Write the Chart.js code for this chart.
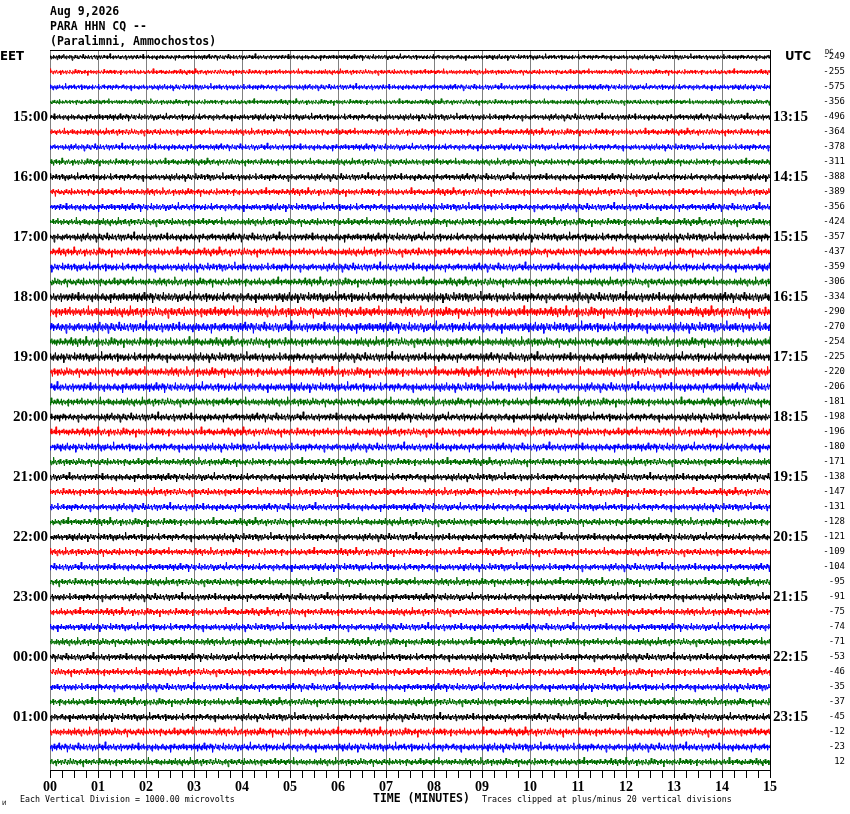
<!DOCTYPE html>
<html>
<head>
<meta charset="utf-8">
<script src="https://cdn.jsdelivr.net/npm/chart.js@4.4.1/dist/chart.umd.min.js"></script>
<style>
  html, body { margin: 0; padding: 0; background: #fff; }
  #wrap { width: 850px; height: 814px; position: relative; }
</style>
</head>
<body>
<div id="wrap"><canvas id="c"></canvas></div>
<script>
// ---- data ----
const titleLines = ['Aug 9,2026', 'PARA HHN CQ --', '(Paralimni, Ammochostos)'];
const minuteLabels = ['00','01','02','03','04','05','06','07','08','09','10','11','12','13','14','15'];
const localHourLabels = ['15:00','16:00','17:00','18:00','19:00','20:00','21:00','22:00','23:00','00:00','01:00'];
const utcHourLabels = ['13:15','14:15','15:15','16:15','17:15','18:15','19:15','20:15','21:15','22:15','23:15'];
const dcValues = [-249,-255,-575,-356,-496,-364,-378,-311,-388,-389,-356,-424,-357,-437,-359,-306,
  -334,-290,-270,-254,-225,-220,-206,-181,-198,-196,-180,-171,-138,-147,-131,-128,
  -121,-109,-104,-95,-91,-75,-74,-71,-53,-46,-35,-37,-45,-12,-23,12];
const traceColors = ['#000000', '#ff0000', '#0000ff', '#006e00'];
// typical noise half-amplitude per trace (in vertical divisions, estimated)
const traceAmps = [0.045,0.045,0.05,0.045, 0.055,0.055,0.055,0.055, 0.06,0.06,0.065,0.065,
  0.07,0.07,0.07,0.07, 0.08,0.085,0.085,0.075, 0.075,0.075,0.075,0.07,
  0.07,0.07,0.07,0.065, 0.065,0.065,0.065,0.065, 0.065,0.065,0.065,0.065,
  0.065,0.065,0.065,0.065, 0.065,0.065,0.065,0.065, 0.065,0.07,0.07,0.065];
// sampled noise texture read as relative values
const texture = [
 1,-2,3,-1,0,2,-3,1,-1,2,0,-2,4,-1,1,-3,2,0,-1,3,
 -2,1,0,-4,2,1,-1,3,-2,0,1,-1,2,-3,0,1,-2,5,-1,0,
 2,-1,-3,1,0,2,-2,1,3,-1,-2,0,1,-1,2,-4,1,0,3,-2,
 1,-1,0,2,-3,1,2,-1,0,-2,3,1,-1,0,-3,2,1,-2,0,4,
 -1,1,-2,0,3,-1,-2,2,0,1,-3,1,0,-1,2,-2,3,0,-1,1,
 -5,2,0,1,-1,3,-2,1,0,-2,2,-1,1,0,-3,2,1,-1,3,-1,
 0,-2,1,2,-1,0,-3,4,-1,1,0,-2,2,-1,1,-2,0,3,-1,2,
 -2,0,1,-1,3,-3,1,0,2,-1,-2,1,0,-1,2,-4,3,0,-1,1,
 2,-2,0,1,-3,2,-1,0,1,-1,3,-2,1,0,-2,2,0,-1,4,-2,
 1,0,-1,2,-3,1,0,-2,3,-1,1,-1,0,2,-2,1,-3,0,2,-1,
 0,3,-2,1,-1,0,2,-1,-2,5,-2,1,0,-1,2,-3,1,0,-1,2,
 -1,0,3,-2,1,-1,2,-2,0,1,-3,2,-1,1,0,-2,3,-1,0,1,
 -2,1
];
const samplesPerTrace = 1200;

// ---- build datasets ----
const datasets = dcValues.map((dc, i) => {
  const pts = [];
  const sign = i % 2 ? -1 : 1;
  for (let j = 0; j <= samplesPerTrace; j++) {
    const v = texture[(j + i * 37) % texture.length];
    pts.push({ x: 15 * j / samplesPerTrace, y: i + sign * traceAmps[i] * v });
  }
  return {
    data: pts,
    borderColor: traceColors[i % 4],
    borderWidth: 1,
    pointRadius: 0,
    tension: 0,
    fill: false
  };
});

const hourRows = localHourLabels.map((_, k) => 4 * (k + 1));
const allRows = dcValues.map((_, i) => i);
const minuteTicks = [];
for (let q = 0; q <= 60; q++) minuteTicks.push(q / 4);

const textPlugin = {
  id: 'texts',
  afterDraw(chart) {
    const ctx = chart.ctx;
    ctx.save();
    ctx.fillStyle = '#000';
    ctx.textBaseline = 'middle';
    ctx.textAlign = 'left';
    ctx.font = 'bold 11.5px "DejaVu Sans Mono"';
    const ty = [12, 27, 42];
    titleLines.forEach((t, k) => ctx.fillText(t, 50, ty[k]));
    ctx.font = 'bold 13px "DejaVu Sans Condensed"';
    ctx.fillText('EET', 0, 57);
    ctx.fillText('UTC', 785, 57);
    ctx.font = '7px "DejaVu Sans Mono"';
    ctx.fillText('DC', 825, 52);
    ctx.font = '8.3px "DejaVu Sans Mono"';
    ctx.fillText('Each Vertical Division = 1000.00 microvolts', 20, 800);
    ctx.fillText('Traces clipped at plus/minus 20 vertical divisions', 482, 800);
    ctx.font = 'bold 11.5px "DejaVu Sans Mono"';
    ctx.fillText('TIME (MINUTES)', 373, 799);
    ctx.font = '6px "DejaVu Sans"';
    ctx.fillText('\u0418', 2, 803);
    ctx.restore();
  }
};

new Chart(document.getElementById('c'), {
  type: 'line',
  data: { datasets },
  options: {
    responsive: true,
    maintainAspectRatio: false,
    devicePixelRatio: 1,
    animation: false,
    parsing: false,
    normalized: true,
    events: [],
    layout: { padding: { top: 50, left: 0, right: 5, bottom: 0 } },
    plugins: { legend: { display: false }, tooltip: { enabled: false }, title: { display: false } },
    scales: {
      x: {
        type: 'linear', position: 'bottom', min: 0, max: 15,
        afterBuildTicks(s) { s.ticks = minuteTicks.map(v => ({ value: v })); },
        afterFit(s) { s.height = 44; },
        ticks: {
          autoSkip: false, maxRotation: 0, padding: 1, color: '#000',
          font: { family: '"Liberation Serif"', weight: 'bold', size: 14 },
          callback: (v) => Number.isInteger(v) ? minuteLabels[v] : ''
        },
        grid: {
          color: (c) => (c.tick && Number.isInteger(c.tick.value)) ? '#808080' : 'rgba(0,0,0,0)',
          tickColor: '#000', tickLength: 8, lineWidth: 1
        },
        border: { display: true, color: '#000', width: 1 }
      },
      x2: {
        type: 'linear', position: 'top', min: 0, max: 15,
        afterFit(s) { s.height = 0; },
        ticks: { display: false },
        grid: { display: false, drawTicks: false },
        border: { display: true, color: '#000', width: 1 }
      },
      y: {
        type: 'linear', position: 'left', min: -7 / 15, max: 48 - 7 / 15, reverse: true,
        afterBuildTicks(s) { s.ticks = hourRows.map(v => ({ value: v })); },
        afterFit(s) { s.width = 50; },
        ticks: {
          autoSkip: false, padding: 2, color: '#000',
          font: { family: '"Liberation Serif"', weight: 'bold', size: 15 },
          callback: (v) => localHourLabels[hourRows.indexOf(v)]
        },
        grid: { display: false, drawTicks: false },
        border: { display: false }
      },
      y2: {
        type: 'linear', position: 'right', min: -7 / 15, max: 48 - 7 / 15, reverse: true,
        afterBuildTicks(s) { s.ticks = hourRows.map(v => ({ value: v })); },
        afterFit(s) { s.width = 45; },
        ticks: {
          autoSkip: false, padding: 3, color: '#000',
          font: { family: '"Liberation Serif"', weight: 'bold', size: 15 },
          callback: (v) => utcHourLabels[hourRows.indexOf(v)]
        },
        grid: { display: false, drawTicks: false },
        border: { display: true, color: '#000', width: 1 }
      },
      y3: {
        type: 'linear', position: 'right', min: -7 / 15, max: 48 - 7 / 15, reverse: true,
        afterBuildTicks(s) { s.ticks = allRows.map(v => ({ value: v })); },
        afterFit(s) { s.width = 30; },
        ticks: {
          autoSkip: false, padding: 3, crossAlign: 'far', color: '#000',
          font: { family: '"DejaVu Sans Mono"', size: 9 },
          callback: (v) => String(dcValues[v])
        },
        grid: { display: false, drawTicks: false },
        border: { display: false }
      }
    }
  },
  plugins: [textPlugin]
});
</script>
</body>
</html>
